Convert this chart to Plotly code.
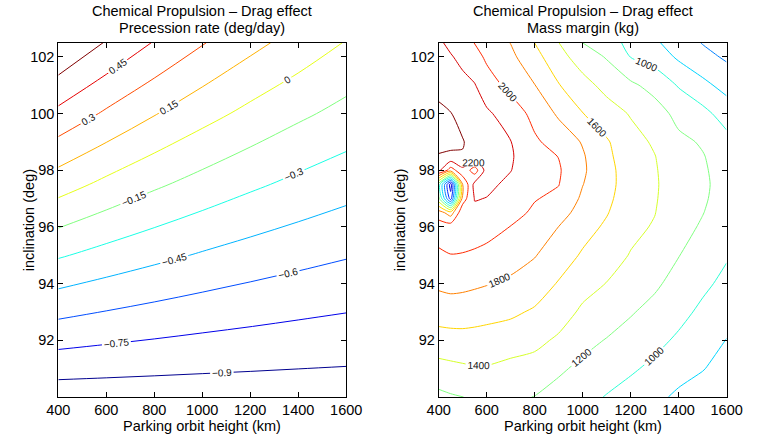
import plotly.graph_objects as go

# ---------------- data ----------------
heights_prec = [400, 600, 800, 1000, 1200, 1400, 1600]
incl_prec = [90, 92.5, 95, 97.5, 100, 102.5]
# precession rate (deg/day), rows = inclination, cols = height
prec_90 = [-0.986, -0.986, -0.986, -0.986, -0.986, -0.986, -0.986]
prec_92_5 = [-0.634, -0.668, -0.698, -0.725, -0.748, -0.769, -0.787]
prec_95 = [-0.284, -0.352, -0.411, -0.464, -0.511, -0.552, -0.589]
prec_97_5 = [0.066, -0.036, -0.126, -0.204, -0.274, -0.336, -0.391]
prec_100 = [0.413, 0.278, 0.159, 0.054, -0.039, -0.122, -0.195]
prec_102_5 = [0.758, 0.589, 0.441, 0.310, 0.194, 0.091, -0.008]
precession = [prec_90, prec_92_5, prec_95, prec_97_5, prec_100, prec_102_5]
prec_levels = dict(start=-0.9, end=0.6, size=0.15)

heights_mass = [400, 450, 500, 550, 600, 700, 800, 900, 1000, 1100, 1200, 1300, 1400, 1500, 1600]
incl_mass = [90, 91, 92, 93, 94, 95, 96, 96.5, 97, 97.5, 98, 98.5, 99, 100, 101, 102, 102.5]
# mass margin (kg), one list per height (values along incl_mass)
m400 = [1150, 1333, 1517, 1688, 1837, 1965, 2095, 1900, 1250, 1100, 2250, 2389, 2450, 2440, 2345, 2270, 2230]
m450 = [1180, 1352, 1527, 1698, 1857, 1995, 2111, 1700, 300, 100, 1900, 2380, 2430, 2405, 2330, 2215, 2155]
m500 = [1198, 1370, 1530, 1700, 1845, 1990, 2100, 2150, 1900, 1800, 2150, 2390, 2410, 2340, 2255, 2150, 2075]
m550 = [1225, 1385, 1530, 1680, 1830, 1970, 2100, 2155, 2210, 2260, 1900, 2330, 2335, 2290, 2210, 2075, 1995]
m600 = [1245, 1385, 1520, 1665, 1810, 1940, 2080, 2135, 2195, 2240, 2290, 2320, 2310, 2230, 2095, 1965, 1926]
m700 = [1235, 1345, 1495, 1635, 1760, 1895, 1995, 2060, 2110, 2160, 2205, 2220, 2205, 2110, 1940, 1844, 1795]
m800 = [1195, 1325, 1450, 1575, 1705, 1810, 1920, 1970, 2010, 2050, 2080, 2070, 2030, 1940, 1805, 1667, 1598]
m900 = [1130, 1230, 1370, 1490, 1585, 1700, 1798, 1880, 1960, 2005, 2020, 1995, 1920, 1770, 1610, 1470, 1402]
m1000 = [1058, 1156, 1259, 1366, 1472, 1577, 1674, 1720, 1767, 1805, 1830, 1820, 1785, 1605, 1470, 1305, 1198]
m1100 = [990, 1085, 1190, 1300, 1395, 1480, 1570, 1612, 1640, 1655, 1650, 1635, 1620, 1489, 1338, 1185, 1078]
m1200 = [912, 1030, 1130, 1215, 1300, 1390, 1445, 1475, 1500, 1515, 1520, 1505, 1470, 1385, 1238, 995, 952]
m1300 = [840, 950, 1060, 1145, 1230, 1315, 1385, 1405, 1415, 1420, 1415, 1405, 1375, 1290, 1129, 920, 830]
m1400 = [770, 860, 965, 1065, 1135, 1205, 1260, 1285, 1300, 1305, 1300, 1280, 1245, 1140, 985, 768, 705]
m1500 = [700, 810, 880, 955, 1045, 1120, 1180, 1205, 1220, 1225, 1220, 1210, 1180, 1060, 850, 665, 590]
m1600 = [640, 720, 795, 865, 945, 1020, 1090, 1115, 1135, 1145, 1135, 1110, 1065, 909, 734, 570, 530]
mass_columns = [m400, m450, m500, m550, m600, m700, m800, m900, m1000,
                m1100, m1200, m1300, m1400, m1500, m1600]
mass_levels = dict(start=0, end=2400, size=200)

x_ticks = [400, 600, 800, 1000, 1200, 1400, 1600]
y_ticks = [92, 94, 96, 98, 100, 102]

# ---------------- figure ----------------
W, H = 760, 442
FONT = "Liberation Sans, Arial, Helvetica, sans-serif"
jet = [[0.0, "rgb(0,0,143)"], [0.125, "rgb(0,0,255)"], [0.375, "rgb(0,255,255)"],
       [0.625, "rgb(255,255,0)"], [0.875, "rgb(255,0,0)"], [1.0, "rgb(128,0,0)"]]

mass_z = [list(row) for row in zip(*mass_columns)]

fig = go.Figure()
fig.add_trace(go.Contour(
    x=heights_prec, y=incl_prec, z=precession, xaxis="x", yaxis="y",
    autocontour=False, contours=dict(coloring="lines", showlabels=True,
                                     labelfont=dict(size=10, color="#111", family=FONT),
                                     labelformat=".2~f", **prec_levels),
    colorscale=jet, zmin=-0.9, zmax=0.6, showscale=False,
    line=dict(width=1, smoothing=1), hoverinfo="skip"))
fig.add_trace(go.Contour(
    x=heights_mass, y=incl_mass, z=mass_z, xaxis="x2", yaxis="y2",
    autocontour=False, contours=dict(coloring="lines", showlabels=True,
                                     labelfont=dict(size=10, color="#111", family=FONT),
                                     labelformat="d", **mass_levels),
    colorscale=jet, zmin=-200, zmax=2600, showscale=False,
    line=dict(width=1, smoothing=0.7), hoverinfo="skip"))

def px_x(p):
    return p / W

def px_y(p):
    return 1 - p / H

axis_common = dict(showline=True, linecolor="black", linewidth=1, mirror="ticks",
                   ticks="inside", ticklen=5, tickcolor="black", showgrid=False,
                   zeroline=False, tickfont=dict(size=14.5, color="black", family=FONT))
left_dom = [px_x(48), px_x(347)]
right_dom = [px_x(443), px_x(742)]
y_dom = [px_y(397), px_y(42.7)]

fig.update_layout(
    width=W, height=H, margin=dict(l=0, r=0, t=0, b=0),
    paper_bgcolor="white", plot_bgcolor="white", showlegend=False,
    xaxis=dict(domain=left_dom, range=[400, 1600], tickvals=x_ticks, anchor="y", **axis_common),
    yaxis=dict(domain=y_dom, range=[90, 102.5], tickvals=y_ticks, anchor="x", **axis_common),
    xaxis2=dict(domain=right_dom, range=[400, 1600], tickvals=x_ticks, anchor="y2", **axis_common),
    yaxis2=dict(domain=y_dom, range=[90, 102.5], tickvals=y_ticks, anchor="x2", **axis_common),
)

ann = []
for cx, sub in [((48 + 347) / 2, "Precession rate (deg/day)"), ((443 + 742) / 2, "Mass margin (kg)")]:
    ann.append(dict(text="Chemical Propulsion – Drag effect", x=px_x(cx), y=px_y(11)))
    ann.append(dict(text=sub, x=px_x(cx), y=px_y(28.5)))
    ann.append(dict(text="Parking orbit height (km)", x=px_x(cx), y=px_y(426)))
for cx in [18, 403]:
    ann.append(dict(text="inclination (deg)", x=px_x(cx), y=px_y(220), textangle=-90))
for a in ann:
    a.update(xref="paper", yref="paper", showarrow=False, xanchor="center", yanchor="middle",
             font=dict(size=14.5, color="black", family=FONT))
fig.update_layout(annotations=ann)

fig.write_html("out.html")
